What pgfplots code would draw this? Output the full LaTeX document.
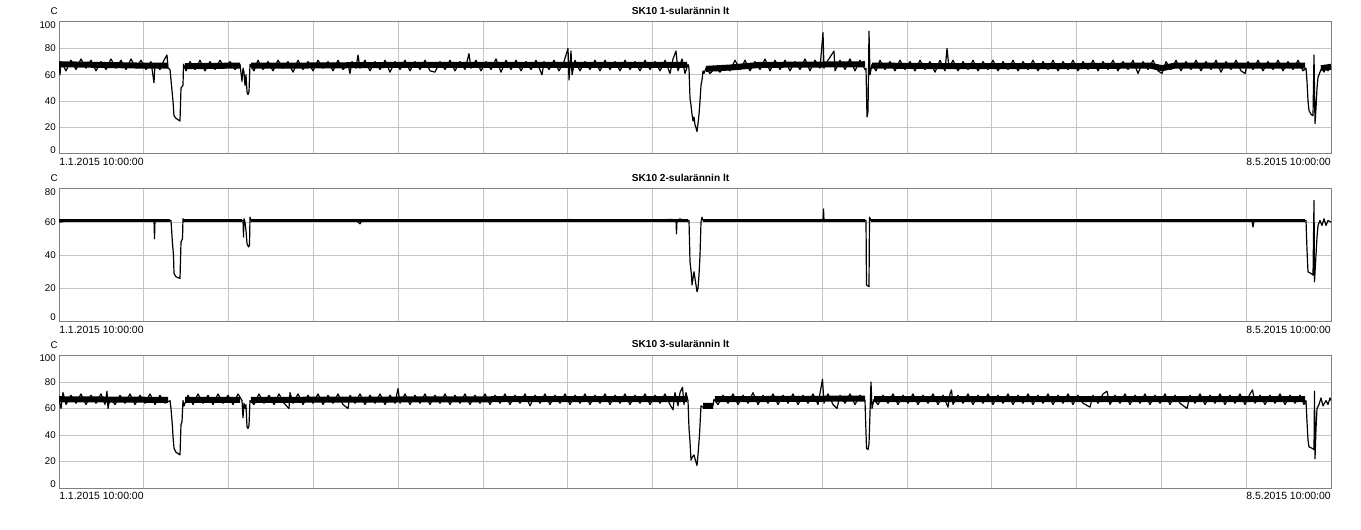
\documentclass[border=0pt]{standalone}
\usepackage{fontspec}
\setmainfont{Liberation Sans}
\usepackage{pgfplots}
\pgfplotsset{compat=1.18}
\newcommand\tl{\fontsize{7.3pt}{8pt}\selectfont}
\newcommand\dl{\fontsize{7.85pt}{8pt}\selectfont}
\newcommand\ttl{\fontsize{7.6pt}{8pt}\selectfont\bfseries}
\definecolor{gridc}{RGB}{196,196,196}
\definecolor{framec}{RGB}{128,128,128}
\tikzset{lab/.style={font=\tl, inner sep=0pt}}
\pgfplotsset{
  panel/.style={
    scale only axis, width=954pt, anchor=south west,
    xmin=59, xmax=1331,
    xtick={143.8,228.6,313.4,398.2,483,567.8,652.6,737.4,822.2,907,991.8,1076.6,1161.4,1246.2},
    xticklabels={},
    xmajorgrids, ymajorgrids,
    major grid style={gridc, line width=0.75pt},
    major tick length=0pt,
    axis line style={framec, line width=0.75pt},
    yticklabel style={font=\tl, inner sep=0pt, xshift=-2.2pt},
    unbounded coords=jump,
    clip mode=individual,
  },
  band/.style={black, line width=4.5pt, line cap=butt, no markers},
  trace/.style={black, line width=0.9pt, line join=round, no markers},
}
\begin{document}
\begin{tikzpicture}
\useasboundingbox (0,0) rectangle (1020.75pt,396.75pt);

% panel 1
\begin{axis}[panel, at={(44.25pt,281.25pt)}, height=99pt,
  ymin=0, ymax=100, ytick={0,20,40,60,80,100}, yticklabels={,20,40,60,80,}]
\addplot[band] coordinates {
(59,68) (100,67.5) (140,67) (168,67) (168,nan)
(185,66.5) (240,67) (240,nan)
(251,67) (300,67) (400,67.5) (500,67.5) (600,67.5) (687,67.5) (687,nan)
(706,64.5) (730,65.5) (760,67.5) (865,68) (865,nan)
(872,67) (950,66.5) (1050,66.5) (1150,67) (1162,65) (1175,67) (1305,67) (1305,nan)
(1321,65) (1331,66)
};
\addplot[trace] coordinates {
(59,68) (60,60) (61,70) (66,63) (71,71) (76,64) (81,72) (86,65) (91,71) (96,63)
(101,70) (106,64) (111,72) (116,65) (121,71) (126,64) (131,72) (136,65) (141,71) (146,64)
(151,70) (154,54) (155,68) (160,64) (164,71) (167,75) (168,65) (170,64) (172,48) (173,40)
(174,29) (176,27) (178,26) (180,25) (181,50) (183,52) (183.5,68) (186,63) (190,70) (195,64)
(200,71) (205,63) (210,70) (215,64) (220,71) (225,65) (230,70) (235,64) (240,68) (242,55)
(243,65) (244,62) (245,52) (246,60) (247,47) (248,45) (249,47) (250,68) (254,63) (258,71)
(263,64) (268,70) (273,63) (278,71) (283,65) (288,70) (293,62) (298,71) (303,64) (308,70)
(313,63) (318,71) (323,65) (328,70) (333,63) (338,71) (343,64) (348,68) (350,61) (352,70)
(356,65) (358,75) (360,65) (365,71) (370,63) (375,70) (380,64) (385,71) (390,62) (395,70)
(400,64) (405,71) (410,63) (415,70) (420,64) (425,71) (430,63) (435,62) (440,70) (445,64)
(450,71) (455,63) (460,70) (465,64) (469,76) (471,65) (476,71) (481,63) (486,70) (491,64)
(496,72) (501,62) (506,71) (511,64) (516,71) (521,63) (526,70) (531,64) (536,71) (542,60)
(544,70) (549,64) (554,71) (559,63) (564,70) (568,80) (569,56) (571,78) (572,60) (575,71)
(580,63) (585,70) (590,64) (595,71) (600,63) (605,71) (610,64) (615,70) (620,63) (625,71)
(630,64) (635,70) (640,63) (645,71) (650,64) (655,70) (660,63) (665,71) (670,61) (673,72)
(676,78) (678,63) (682,72) (685,61) (688,68) (689,65) (690,42) (691,37) (692,30) (693,25)
(694,28) (695,22) (696,20) (697,17) (698,23) (699,30) (700,40) (701,52) (702,56) (703,63)
(704,61) (706,65) (710,61) (715,65) (720,62) (725,67) (730,63) (735,71) (740,64) (745,71)
(750,63) (755,70) (760,64) (765,72) (770,63) (775,71) (780,64) (785,71) (790,63) (795,70)
(800,64) (805,72) (810,63) (815,71) (820,65) (823,92) (824,65) (828,71) (834,78) (835,63)
(840,71) (845,64) (850,72) (855,63) (860,71) (865,64) (866,65) (867,28) (868,32) (869,93)
(870,60) (872,68) (876,63) (880,71) (885,64) (890,70) (895,63) (900,71) (905,64) (910,70)
(915,63) (920,71) (925,64) (930,70) (935,62) (940,71) (945,63) (947,80) (949,65) (953,71)
(958,63) (963,70) (968,64) (973,71) (978,63) (983,70) (988,64) (993,71) (998,63) (1003,70)
(1008,64) (1013,71) (1018,63) (1023,70) (1028,64) (1033,71) (1038,63) (1043,70) (1048,64) (1053,71)
(1058,63) (1063,70) (1068,64) (1073,71) (1078,63) (1083,70) (1088,64) (1093,71) (1098,63) (1103,70)
(1108,64) (1113,71) (1118,63) (1123,70) (1128,64) (1133,71) (1138,61) (1143,70) (1148,64) (1153,71)
(1158,63) (1162,61) (1166,70) (1171,64) (1176,71) (1181,63) (1186,70) (1191,64) (1196,71) (1201,63)
(1206,70) (1211,64) (1216,71) (1221,62) (1226,70) (1231,64) (1236,71) (1241,63) (1245,61) (1248,70)
(1253,64) (1258,71) (1263,63) (1268,70) (1273,64) (1278,71) (1283,63) (1288,70) (1293,64) (1298,71)
(1303,63) (1306,65) (1307,55) (1308,40) (1309,33) (1311,30) (1313,29) (1314,75) (1315,23) (1316,35)
(1317,50) (1318,58) (1320,62) (1322,66) (1324,62) (1326,67) (1328,63) (1330,68) (1331,65)
};
\node[lab, anchor=east, xshift=-2.2pt, yshift=-2.3pt] at (rel axis cs:0,1) {100};
\node[lab, anchor=east, xshift=-2.2pt, yshift=3pt] at (rel axis cs:0,0) {0};
\node[lab, anchor=base, xshift=-3.6pt, yshift=5.6pt] at (rel axis cs:0,1) {C};
\node[lab, font=\ttl, anchor=base, yshift=5.8pt] at (rel axis cs:0.4886,1) {SK10 1-sularännin lt};
\node[lab, font=\dl, anchor=north west, yshift=-3pt] at (rel axis cs:0,0) {1.1.2015 10:00:00};
\node[lab, font=\dl, anchor=north east, yshift=-3pt] at (rel axis cs:1,0) {8.5.2015 10:00:00};
\end{axis}

% panel 2
\begin{axis}[panel, at={(44.25pt,155.625pt)}, height=99.375pt,
  ymin=0, ymax=80, ytick={0,20,40,60,80}, yticklabels={,20,40,60,}]
\addplot[band, line width=2pt] coordinates {
(59,61) (170,61) (170,nan)
(183,61) (242,61) (242,nan)
(251,61) (688,61) (688,nan)
(703,61) (865,61) (865,nan)
(871,61) (1305,61)
};
\addplot[trace] coordinates {
(59,61) (60,60) (75,61.5) (90,60.5) (105,61.5) (120,60.7) (135,61.5) (150,60.6) (154,61) (154.5,50)
(155,61) (165,61.5) (170,61) (171,61) (172.5,47) (173.5,40) (174,29) (176,27) (178,26.5) (180,26)
(181,48) (182.5,50) (183,62) (184,61) (195,61.5) (210,60.6) (225,61.4) (240,60.8) (243,61) (243.5,51)
(244,62) (245,60) (246,55) (247,47) (248.5,45) (249.5,46) (250,63) (251,61) (265,61.5) (280,60.6)
(295,61.4) (310,60.6) (325,61.5) (340,60.7) (355,61.5) (360,59) (362,61) (375,60.6) (390,61.4) (405,60.7)
(420,61.5) (435,60.6) (450,61.4) (465,60.7) (480,61.5) (495,60.6) (510,61.4) (525,60.7) (540,61.5) (555,60.6)
(570,61.6) (585,60.6) (600,61.4) (615,60.6) (630,61.5) (645,60.7) (660,61.4) (672,61.6) (676,61) (676.5,53)
(677,61) (680,62) (685,60.5) (689,61) (690,36) (691.5,28) (692,22) (694,30) (695.5,24) (697,18)
(698,20) (699,28) (700,40) (701,60) (702,63) (703,61) (715,61.5) (730,60.6) (745,61.4) (760,60.7)
(775,61.5) (790,60.6) (805,61.4) (820,60.8) (823,61) (823.5,68) (824,61) (835,61.4) (850,60.6) (862,61.5)
(866,61) (866.5,22) (868,21.5) (869,21) (869.5,63) (871,61) (880,61.5) (895,60.6) (910,61.4) (925,60.7)
(940,61.5) (955,60.6) (970,61.4) (985,60.7) (1000,61.5) (1015,60.6) (1030,61.4) (1045,60.7) (1060,61.5) (1075,60.6)
(1090,61.4) (1105,60.7) (1120,61.5) (1135,60.6) (1150,61.4) (1165,60.7) (1180,61.5) (1195,60.6) (1210,61.4) (1225,60.7)
(1240,61.5) (1252,61) (1253,57) (1254,61) (1265,61.5) (1280,60.6) (1295,61.4) (1306,61) (1307,43) (1308,30)
(1311,29) (1313,28) (1314,73) (1314.5,24) (1315.5,35) (1317,51) (1318,58) (1320,61) (1322,58) (1324,62)
(1326,58) (1328,61) (1331,60)
};
\node[lab, anchor=east, xshift=-2.2pt, yshift=-2pt] at (rel axis cs:0,1) {80};
\node[lab, anchor=east, xshift=-2.2pt, yshift=3.5pt] at (rel axis cs:0,0) {0};
\node[lab, anchor=base, xshift=-3.6pt, yshift=5.6pt] at (rel axis cs:0,1) {C};
\node[lab, font=\ttl, anchor=base, yshift=5.8pt] at (rel axis cs:0.4886,1) {SK10 2-sularännin lt};
\node[lab, font=\dl, anchor=north west, yshift=-3pt] at (rel axis cs:0,0) {1.1.2015 10:00:00};
\node[lab, font=\dl, anchor=north east, yshift=-3pt] at (rel axis cs:1,0) {8.5.2015 10:00:00};
\end{axis}

% panel 3
\begin{axis}[panel, at={(44.25pt,30.75pt)}, height=99.375pt,
  ymin=0, ymax=100, ytick={0,20,40,60,80,100}, yticklabels={,20,40,60,80,}]
\addplot[band] coordinates {
(59,67) (168,66.5) (168,nan)
(185,66.5) (240,66.5) (240,nan)
(251,66.5) (500,67) (687,67) (687,nan)
(703,62) (713,62) (713,nan)
(715,67) (865,67.5) (865,nan)
(874,67) (1100,67) (1305,67)
};
\addplot[trace] coordinates {
(59,67) (61,60) (63,72) (66,63) (71,70) (76,64) (81,71) (86,63) (91,70) (96,64)
(101,71) (105,63) (107,73) (108,60) (110,68) (115,63) (120,70) (125,64) (130,71) (135,63)
(140,70) (145,64) (150,71) (155,63) (160,70) (165,64) (170,66) (171,60) (172.5,46) (173,39)
(174,30) (176,27) (178,26) (180,25) (181,48) (182,50) (183,66) (184,62) (188,70) (193,63)
(198,71) (203,64) (208,70) (213,63) (218,71) (223,64) (228,70) (233,63) (238,71) (242,66)
(243,53) (244,64) (245,60) (246,63) (247,46) (248,45) (249,47) (250,66) (254,63) (259,71)
(264,64) (269,70) (274,63) (279,71) (284,64) (289,60) (290,72) (293,64) (298,71) (303,63)
(308,70) (313,64) (318,71) (323,63) (328,70) (333,64) (338,71) (343,63) (348,60) (350,70)
(355,64) (360,71) (365,63) (370,70) (375,64) (380,71) (385,63) (390,70) (395,64) (398,75)
(400,64) (405,71) (410,63) (415,70) (420,64) (425,71) (430,63) (435,70) (440,64) (445,71)
(450,63) (455,70) (460,64) (465,71) (470,63) (475,70) (480,64) (485,71) (490,63) (495,70)
(500,64) (505,71) (510,63) (515,70) (520,64) (525,71) (530,62) (535,70) (540,64) (545,71)
(550,63) (555,70) (560,64) (565,71) (570,63) (575,70) (580,64) (585,71) (590,63) (595,70)
(600,64) (605,71) (610,63) (615,70) (620,64) (625,71) (630,63) (635,70) (640,64) (645,71)
(650,63) (655,70) (660,64) (665,71) (670,63) (673,59) (675,72) (678,62) (680,72) (682.5,76)
(684,63) (686,72) (688,66) (689,45) (690,35) (691,21) (692,23) (694,25) (695,22) (697,17)
(698,25) (699.5,40) (700.5,55) (701,62) (703,61) (706,63) (709,61) (713,62) (714,67) (718,63)
(723,70) (728,64) (733,71) (738,63) (743,70) (748,64) (753,72) (758,63) (763,70) (768,64)
(773,71) (778,63) (783,70) (788,64) (793,71) (798,63) (803,70) (808,64) (813,71) (818,63)
(822.5,82) (824,64) (828,71) (833,63) (837,60) (840,70) (845,64) (850,71) (855,63) (860,70)
(865,66) (866.5,30) (868,29) (869,33) (871,80) (872,60) (874,67) (878,63) (883,70) (888,64)
(893,71) (898,63) (903,70) (908,64) (913,71) (918,63) (923,70) (928,64) (933,71) (938,63)
(943,70) (948,61) (950,71) (951.5,74) (953,63) (958,70) (963,64) (968,71) (973,63) (978,70)
(983,64) (988,71) (993,63) (998,70) (1003,64) (1008,71) (1013,63) (1018,70) (1023,64) (1028,71)
(1033,63) (1038,70) (1043,64) (1048,71) (1053,63) (1058,70) (1063,64) (1068,71) (1073,63) (1078,70)
(1083,64) (1090,61) (1093,70) (1098,64) (1103,71) (1107,73) (1110,63) (1115,70) (1120,64) (1125,71)
(1130,63) (1135,70) (1140,64) (1145,71) (1150,63) (1155,70) (1160,64) (1165,71) (1170,63) (1175,70)
(1180,64) (1187,60) (1190,70) (1195,64) (1200,71) (1205,63) (1210,70) (1215,64) (1220,71) (1225,63)
(1230,70) (1235,64) (1240,71) (1245,63) (1250,71) (1252.5,74) (1255,64) (1260,70) (1265,63) (1270,70)
(1275,64) (1280,71) (1285,63) (1290,70) (1295,64) (1300,70) (1304,63) (1306,66) (1307,50) (1308,36)
(1309,31) (1312,30) (1314,29) (1314.5,73) (1315,22) (1316,45) (1317,60) (1319,63) (1321,68) (1323,62)
(1326,66) (1328,63) (1330,68) (1331,66)
};
\node[lab, anchor=east, xshift=-2.2pt, yshift=-2.3pt] at (rel axis cs:0,1) {100};
\node[lab, anchor=east, xshift=-2.2pt, yshift=3pt] at (rel axis cs:0,0) {0};
\node[lab, anchor=base, xshift=-3.6pt, yshift=5.6pt] at (rel axis cs:0,1) {C};
\node[lab, font=\ttl, anchor=base, yshift=5.8pt] at (rel axis cs:0.4886,1) {SK10 3-sularännin lt};
\node[lab, font=\dl, anchor=north west, yshift=-3pt] at (rel axis cs:0,0) {1.1.2015 10:00:00};
\node[lab, font=\dl, anchor=north east, yshift=-3pt] at (rel axis cs:1,0) {8.5.2015 10:00:00};
\end{axis}
\end{tikzpicture}
\end{document}
